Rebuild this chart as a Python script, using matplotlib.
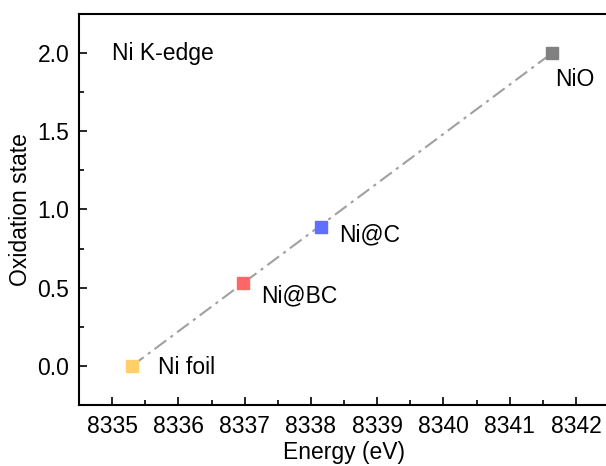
import matplotlib.pyplot as plt

plt.rcParams['font.family'] = ['Liberation Sans', 'DejaVu Sans']

samples = ['Ni foil', 'Ni@BC', 'Ni@C', 'NiO']
energy = [8335.30, 8336.97, 8338.15, 8341.64]
oxidation = [0.0, 0.53, 0.89, 2.0]
colors = ['#FFCF6A', '#FF6666', '#5F6FFF', '#808080']

# reference line through the two standards
ref_energy = [8335.30, 8341.64]
ref_oxidation = [0.0, 2.0]

fs = 16.5

fig = plt.figure(figsize=(6.06, 4.66), dpi=100)
ax = fig.add_axes([79 / 606, 61 / 466, 530 / 606, 391 / 466])

ax.plot(ref_energy, ref_oxidation, color='#A0A0A0', linestyle=(0, (7, 2.5, 1.5, 2.5)),
        linewidth=1.5, zorder=1)
for e, o, c in zip(energy, oxidation, colors):
    ax.plot(e, o, marker='s', markersize=8, color=c, linestyle='none', zorder=2)

offsets = {'Ni foil': (0.40, -0.01), 'Ni@BC': (0.28, -0.08),
           'Ni@C': (0.28, -0.05), 'NiO': (0.04, -0.17)}
for s, e, o in zip(samples, energy, oxidation):
    dx, dy = offsets[s]
    ax.text(e + dx, o + dy, s, fontsize=fs, ha='left', va='center')

ax.text(8335.0, 2.0, 'Ni K-edge', fontsize=fs, ha='left', va='center')

ax.set_xlim(8334.5, 8342.5)
ax.set_ylim(-0.25, 2.25)
ax.set_xticks(range(8335, 8343))
ax.set_yticks([0.0, 0.5, 1.0, 1.5, 2.0])
ax.set_yticklabels(['0.0', '0.5', '1.0', '1.5', '2.0'])
ax.set_xticks([x + 0.5 for x in range(8334, 8343)], minor=True)
ax.set_yticks([-0.25, 0.25, 0.75, 1.25, 1.75, 2.25], minor=True)
ax.tick_params(which='both', direction='in', width=1.2, labelsize=fs)
ax.tick_params(which='major', length=6)
ax.tick_params(which='minor', length=3.5)
ax.tick_params(axis='x', pad=7)
ax.tick_params(axis='y', pad=7)
for sp in ax.spines.values():
    sp.set_linewidth(1.5)

ax.set_xlabel('Energy (eV)', fontsize=fs, labelpad=2)
ax.set_ylabel('Oxidation state', fontsize=fs, labelpad=4)

fig.savefig('out.png', dpi=100)
